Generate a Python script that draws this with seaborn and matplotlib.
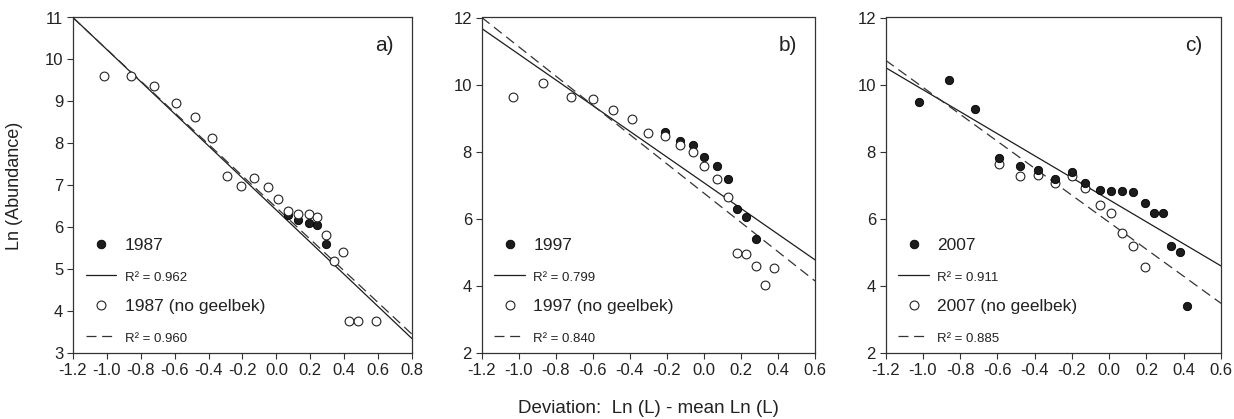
import numpy as np
import matplotlib
matplotlib.use("Agg")
import matplotlib.pyplot as plt
import seaborn as sns
from matplotlib.lines import Line2D

sns.set_theme(style="ticks")
plt.rcParams["font.family"] = ["Liberation Sans", "DejaVu Sans"]

INK = "#1c1c1c"

# ---- data: Ln(abundance) against size deviation ----
years = ["1987", "1997", "2007"]
panel_tags = ["a)", "b)", "c)"]

# 1987, all species
x87_all = [0.07, 0.13, 0.19, 0.24, 0.29]
y87_all = [6.30, 6.18, 6.10, 6.05, 5.61]
# 1987, geelbek excluded
x87_ng = [-1.02, -0.86, -0.72, -0.59, -0.48, -0.38, -0.29, -0.21, -0.13, -0.05,
          0.01, 0.07, 0.13, 0.19, 0.24, 0.29, 0.34, 0.39, 0.43, 0.48, 0.59]
y87_ng = [9.60, 9.60, 9.37, 8.97, 8.63, 8.14, 7.22, 6.99, 7.18, 6.95,
          6.67, 6.38, 6.33, 6.33, 6.25, 5.81, 5.21, 5.41, 3.78, 3.78, 3.78]

# 1997, all species
x97_all = [-0.21, -0.13, -0.06, 0.00, 0.07, 0.13, 0.18, 0.23, 0.28]
y97_all = [8.60, 8.33, 8.20, 7.85, 7.58, 7.18, 6.29, 6.07, 5.40]
# 1997, geelbek excluded
x97_ng = [-1.03, -0.87, -0.72, -0.60, -0.49, -0.39, -0.30, -0.21, -0.13, -0.06,
          0.00, 0.07, 0.13, 0.18, 0.23, 0.28, 0.33, 0.38]
y97_ng = [9.62, 10.04, 9.64, 9.56, 9.24, 8.99, 8.57, 8.47, 8.19, 8.00,
          7.58, 7.18, 6.64, 5.00, 4.95, 4.60, 4.03, 4.55]

# 2007, all species
x07_all = [-1.02, -0.86, -0.72, -0.59, -0.48, -0.38, -0.29, -0.20, -0.13, -0.05,
           0.01, 0.07, 0.13, 0.19, 0.24, 0.29, 0.33, 0.38, 0.42]
y07_all = [9.47, 10.15, 9.27, 7.82, 7.59, 7.47, 7.20, 7.40, 7.07, 6.85,
           6.83, 6.82, 6.80, 6.48, 6.18, 6.18, 5.19, 5.02, 3.40]
# 2007, geelbek excluded
x07_ng = [-0.59, -0.48, -0.38, -0.29, -0.20, -0.13, -0.05, 0.01, 0.07, 0.13, 0.19]
y07_ng = [7.64, 7.27, 7.31, 7.06, 7.27, 6.92, 6.42, 6.18, 5.57, 5.19, 4.57]

# fitted regression lines (slope, intercept) and their R^2
slope_all = [-3.825, -3.828, -3.28]
icept_all = [6.41, 7.08, 6.57]
slope_ng = [-3.77, -4.36, -4.02]
icept_ng = [6.47, 6.77, 5.90]
r2_all = [0.962, 0.799, 0.911]
r2_ng = [0.960, 0.840, 0.885]

x_limits = [(-1.2, 0.8), (-1.2, 0.6), (-1.2, 0.6)]
y_limits = [(3, 11), (2, 12), (2, 12)]
x_ticks = [np.arange(-1.2, 0.81, 0.2), np.arange(-1.2, 0.61, 0.2), np.arange(-1.2, 0.61, 0.2)]
y_ticks = [np.arange(3, 12, 1), np.arange(2, 13, 2), np.arange(2, 13, 2)]

series_all = [(x87_all, y87_all), (x97_all, y97_all), (x07_all, y07_all)]
series_ng = [(x87_ng, y87_ng), (x97_ng, y97_ng), (x07_ng, y07_ng)]
filled_on_top = [False, False, True]

# ---- layout ----
W, H = 1234, 419
fig = plt.figure(figsize=(W / 100, H / 100), dpi=100)
fig.patch.set_facecolor("white")
boxes = [(73, 412), (481.7, 815), (885.7, 1221)]
top_px, bot_px = 17.5, 353.3

DASH = (0, (8, 4.5))
axes = []
for i, (l, r) in enumerate(boxes):
    ax = fig.add_axes([l / W, 1 - bot_px / H, (r - l) / W, (bot_px - top_px) / H])
    axes.append(ax)
    xa, ya = series_all[i]
    xn, yn = series_ng[i]
    z_all, z_ng = (4, 3) if filled_on_top[i] else (3, 4)

    sns.scatterplot(x=xa, y=ya, ax=ax, color=INK, edgecolor="#000000",
                    s=36, linewidth=0.6, zorder=z_all, legend=False)
    sns.scatterplot(x=xn, y=yn, ax=ax, color="white", edgecolor="#222222",
                    s=40, linewidth=0.8, zorder=z_ng, legend=False)

    xs = np.array(x_limits[i])
    sns.lineplot(x=xs, y=slope_all[i] * xs + icept_all[i], ax=ax, color=INK,
                 linewidth=0.9, zorder=2)
    sns.lineplot(x=xs, y=slope_ng[i] * xs + icept_ng[i], ax=ax, color="#333333",
                 linewidth=0.9, linestyle=DASH, zorder=2)

    ax.set_xlim(*x_limits[i])
    ax.set_ylim(*y_limits[i])
    ax.set_xticks(x_ticks[i])
    ax.set_xticklabels([f"{v:.1f}".replace("-0.0", "0.0") for v in x_ticks[i]])
    ax.set_yticks(y_ticks[i])
    ax.set_yticklabels([f"{int(v)}" for v in y_ticks[i]])
    ax.tick_params(direction="out", length=4, width=0.8, colors="#333333",
                   labelcolor="#222222", labelsize=12, pad=3)
    for sp in ax.spines.values():
        sp.set_visible(True)
        sp.set_color("#333333")
        sp.set_linewidth(0.9)
    ax.set_facecolor("white")

    ax.text(0.945, 0.918, panel_tags[i], transform=ax.transAxes, ha="right",
            va="center", fontsize=15, color="#222222")

    handles = [
        Line2D([], [], marker="o", ls="none", mfc=INK, mec="#000000", ms=6.2, mew=0.6),
        Line2D([], [], color=INK, lw=0.9),
        Line2D([], [], marker="o", ls="none", mfc="white", mec="#222222", ms=6.4, mew=0.8),
        Line2D([], [], color="#333333", lw=0.9, ls=DASH),
    ]
    labels = [years[i], f"R\u00b2 = {r2_all[i]:.3f}",
              f"{years[i]} (no geelbek)", f"R\u00b2 = {r2_ng[i]:.3f}"]
    leg = ax.legend(handles, labels, loc="lower left", bbox_to_anchor=(0.012, 0.0),
                    frameon=False, handlelength=1.75, handletextpad=0.5,
                    labelspacing=0.88, borderpad=0, fontsize=12.5)
    for j, t in enumerate(leg.get_texts()):
        t.set_color("#222222")
        if j in (1, 3):
            t.set_fontsize(9.5)

axes[0].set_ylabel("Ln (Abundance)", fontsize=13, color="#222222", labelpad=16)
axes[1].set_xlabel("Deviation:  Ln (L) - mean Ln (L)", fontsize=13.5,
                   color="#222222", labelpad=16)

fig.savefig("out.png", dpi=100, facecolor="white")
